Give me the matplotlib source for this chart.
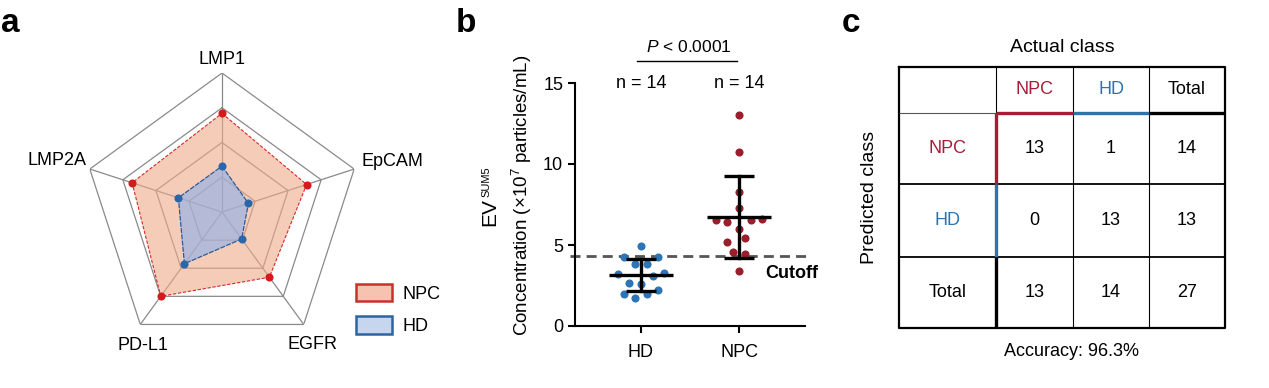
import numpy as np
import matplotlib
matplotlib.use("Agg")
import matplotlib.pyplot as plt
from matplotlib.patches import Patch

plt.rcParams['font.family'] = ['Liberation Sans', 'DejaVu Sans']
plt.rcParams['mathtext.fontset'] = 'custom'
plt.rcParams['mathtext.rm'] = 'Liberation Sans'
plt.rcParams['mathtext.it'] = 'Liberation Sans:italic'
plt.rcParams['mathtext.default'] = 'regular'

# ---- data ----
# panel a: radar
radar_labels = ["LMP1", "EpCAM", "EGFR", "PD-L1", "LMP2A"]
npc_radar = [0.71, 0.64, 0.58, 0.75, 0.68]
hd_radar = [0.33, 0.20, 0.24, 0.46, 0.33]
radar_rings = [0.25, 0.5, 0.75, 1.0]

# panel b: EV SUM5 concentration (x10^7 particles/mL)
groups = ["HD", "NPC"]
hd_conc = [4.96, 4.24, 4.24, 3.83, 3.83, 3.20, 3.29, 3.10, 2.63, 2.59, 2.22, 1.98, 1.98, 1.71]
npc_conc = [13.04, 10.72, 8.25, 7.26, 6.54, 6.40, 6.54, 6.60, 5.97, 5.17, 5.41, 4.59, 4.44, 3.37]
cutoff = 4.32
p_label = r"$\mathit{P}$ < 0.0001"

# panel c: confusion matrix
class_labels = ["NPC", "HD", "Total"]
confusion = [[13, 1, 14],
             [0, 13, 13],
             [13, 14, 27]]
accuracy = 96.3

# ---- layout / style ----
W, H = 1269, 388
RED = "#A51E36"
BLUE = "#2E73AE"
hd_slot = [0, -3, 3, -1, 1, -4, 4, 2, -2, 0, 3, -3, 1, -1]
npc_slot = [0, 0, 0, 0, -4, -2, 2, 4, 0, -2, 1, -1, 1, 0]
label_pos = {"LMP1": (0, 1.10), "EpCAM": (73.6, 1.275), "EGFR": (145.9, 1.155),
             "PD-L1": (210.7, 1.113), "LMP2A": (287.2, 1.243)}


def box(x0, y0, x1, y1):
    return [x0 / W, 1 - y1 / H, (x1 - x0) / W, (y1 - y0) / H]


fig = plt.figure(figsize=(W / 100, H / 100), dpi=100)

# panel letters
for letter, x in [("a", 1), ("b", 456), ("c", 842)]:
    fig.text(x / W, 1 - 32 / H, letter, fontsize=24, fontweight="bold", va="baseline")

# ---- panel a ----
ax = fig.add_axes(box(83, 73, 361, 351), projection="polar")
ax.set_theta_zero_location("N")
ax.set_theta_direction(-1)
ax.set_ylim(0, 1)
ax.axis("off")
theta = np.linspace(0, 2 * np.pi, len(radar_labels), endpoint=False)
tc = np.append(theta, theta[0])
for r in radar_rings:
    ax.plot(tc, [r] * len(tc), color="#8a8a8a", lw=0.9, zorder=1)
for t in theta:
    ax.plot([t, t], [0, 1], color="#8a8a8a", lw=0.9, zorder=1)

npc_c = np.append(npc_radar, npc_radar[0])
hd_c = np.append(hd_radar, hd_radar[0])
ax.fill(tc, npc_c, color="#EDAA89", alpha=0.6, lw=0, zorder=2)
ax.plot(tc, npc_c, color="#D42A2A", lw=0.8, ls=(0, (3, 1.5)), zorder=3)
ax.fill(tc, hd_c, color="#8CB0EC", alpha=0.6, lw=0, zorder=4)
ax.plot(tc, hd_c, color="#2C5A9A", lw=0.9, ls=(0, (4, 1)), zorder=5)
ax.scatter(theta, npc_radar, s=34, color="#D7191C", lw=0, zorder=6)
ax.scatter(theta, hd_radar, s=34, color="#2A66AA", lw=0, zorder=6)

for name in radar_labels:
    ang, rr = label_pos[name]
    ax.text(np.deg2rad(ang), rr, name, ha="center", va="center", fontsize=13)

handles = [Patch(facecolor="#F6C3B0", edgecolor="#C8302B", lw=1.8),
           Patch(facecolor="#C6D6EF", edgecolor="#2F63A0", lw=1.8)]
fig.legend(handles, ["NPC", "HD"], loc="upper left",
           bbox_to_anchor=(356 / W, 1 - 284 / H), frameon=False, fontsize=13,
           handlelength=2.0, handleheight=1.1, labelspacing=0.75,
           handletextpad=0.55, borderpad=0, borderaxespad=0)

# ---- panel b ----
axb = fig.add_axes(box(575, 83, 805, 326))
slot_w = 0.059
for i, (vals, slots, col) in enumerate([(hd_conc, hd_slot, "#2E75B6"),
                                        (npc_conc, npc_slot, "#9B1E2C")]):
    vals = np.array(vals)
    xs = i + np.array(slots) * slot_w
    axb.scatter(xs, vals, s=34, color=col, lw=0, zorder=3)
    m = vals.mean()
    sd = vals.std(ddof=1)
    axb.plot([i - 0.33, i + 0.33], [m, m], color="k", lw=2.4, zorder=4, solid_capstyle="butt")
    axb.plot([i, i], [m - sd, m + sd], color="k", lw=2.4, zorder=4)
    for y in (m - sd, m + sd):
        axb.plot([i - 0.155, i + 0.155], [y, y], color="k", lw=2.4, zorder=4, solid_capstyle="butt")
    axb.text(i, 15, f"n = {len(vals)}", ha="center", va="center", fontsize=13)

axb.axhline(cutoff, xmin=-0.022, xmax=1.013, color="#555555", lw=2,
            ls=(0, (3.6, 2.2)), clip_on=False, zorder=2)
axb.text(1.266, 3.27, "Cutoff", fontweight="bold", ha="left", va="center", fontsize=13)
axb.text(0.49, 17.2, p_label, ha="center", va="center", fontsize=12.5, clip_on=False)
axb.plot([-0.04, 0.98], [16.36, 16.36], color="k", lw=1, clip_on=False)

axb.set_xlim(-0.673, 1.673)
axb.set_ylim(0, 15)
axb.set_yticks([0, 5, 10, 15])
axb.set_xticks([0, 1])
axb.set_xticklabels(groups)
for s in ("top", "right"):
    axb.spines[s].set_visible(False)
for s in ("left", "bottom"):
    axb.spines[s].set_linewidth(1.5)
axb.tick_params(width=1.5, length=5, labelsize=13)
axb.tick_params(axis="x", pad=8)

fig.text(489.5 / W, 1 - 211.7 / H, "EV", rotation=90, ha="center", va="center", fontsize=15)
fig.text(486 / W, 1 - 181.7 / H, "SUM5", rotation=90, ha="center", va="center", fontsize=8)
fig.text(522 / W, 1 - 195 / H, "Concentration (×10$^{7}$ particles/mL)",
         rotation=90, ha="center", va="center", fontsize=13.5)

# ---- panel c ----
axc = fig.add_axes(box(899, 67, 1225, 328))
col_edges = [0, 97, 174, 250, 326]
row_edges = [0, 46, 117, 190, 261]
axc.set_xlim(0, 326)
axc.set_ylim(261, 0)
axc.axis("off")
k = dict(clip_on=False, solid_capstyle="butt")
# outer box
axc.plot([0, 326, 326, 0, 0], [0, 0, 261, 261, 0], color="k", lw=1.6, clip_on=False)
for x in col_edges[2:4]:
    axc.plot([x, x], [0, 261], color="k", lw=0.8, **k)
axc.plot([col_edges[1]] * 2, [0, row_edges[1]], color="k", lw=0.8, **k)
for y in row_edges[2:4]:
    axc.plot([0, 326], [y, y], color="k", lw=1.3, **k)
axc.plot([0, col_edges[1]], [row_edges[1]] * 2, color="#555555", lw=0.8, **k)
for j, c in enumerate([RED, BLUE, "k"]):
    axc.plot([col_edges[j + 1], col_edges[j + 2]], [row_edges[1]] * 2, color=c, lw=2.4, zorder=3, **k)
    axc.plot([col_edges[1]] * 2, [row_edges[j + 1], row_edges[j + 2]], color=c, lw=2.4, zorder=3, **k)

label_colors = [RED, BLUE, "k"]
for j, name in enumerate(class_labels):
    cx = (col_edges[j + 1] + col_edges[j + 2]) / 2
    axc.text(cx, row_edges[0] + (row_edges[1] - row_edges[0]) / 2, name,
             color=label_colors[j], ha="center", va="center", fontsize=13)
    cy = (row_edges[j + 1] + row_edges[j + 2]) / 2
    axc.text(col_edges[1] / 2, cy, name, color=label_colors[j],
             ha="center", va="center", fontsize=13)
for r in range(3):
    for c in range(3):
        cx = (col_edges[c + 1] + col_edges[c + 2]) / 2
        cy = (row_edges[r + 1] + row_edges[r + 2]) / 2
        axc.text(cx, cy, str(confusion[r][c]), ha="center", va="center", fontsize=13)

fig.text(1062 / W, 1 - 48 / H, "Actual class", ha="center", va="center", fontsize=14)
fig.text(870 / W, 1 - 197 / H, "Predicted class", rotation=90, ha="center", va="center", fontsize=14)
fig.text(1072 / W, 1 - 351 / H, f"Accuracy: {accuracy}%", ha="center", va="center", fontsize=13)

fig.savefig("out.png", dpi=100)
